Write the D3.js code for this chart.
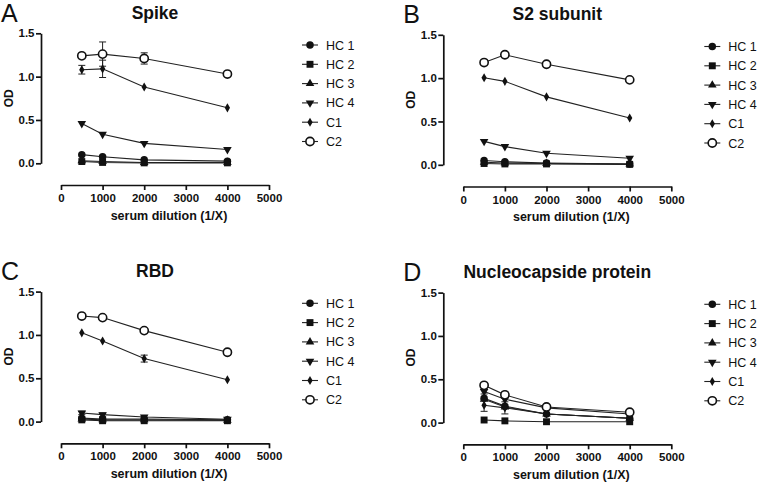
<!DOCTYPE html>
<html>
<head>
<meta charset="utf-8">
<script src="https://cdn.jsdelivr.net/npm/d3@7"></script>
<style>
  html, body { margin: 0; padding: 0; background: #fff; }
  svg { display: block; font-family: "Liberation Sans", Arial, Helvetica, sans-serif; }
</style>
</head>
<body>
<svg id="chart" width="762" height="483"></svg>
<script>
// ---------- DATA ----------
const dilutions = [500, 1000, 2000, 4000];
const seriesNames = ["HC 1", "HC 2", "HC 3", "HC 4", "C1", "C2"];
const panelTitles = ["Spike", "S2 subunit", "RBD", "Nucleocapside protein"];
const panelLetters = ["A", "B", "C", "D"];
const xTicks = [0, 1000, 2000, 3000, 4000, 5000];
const yTicks = [0, 0.5, 1.0, 1.5];
const yTickLabels = ["0.0", "0.5", "1.0", "1.5"];

// OD values per series (rows follow seriesNames)
const spikeValues = [
  [0.10, 0.076, 0.04, 0.025],
  [0.02, 0.01, 0.005, 0.005],
  [0.03, 0.02, 0.01, 0.01],
  [0.46, 0.335, 0.23, 0.16],
  [1.08, 1.09, 0.88, 0.64],
  [1.24, 1.26, 1.21, 1.03]
];
const spikeErrors = [
  [0, 0, 0, 0], [0, 0, 0, 0], [0, 0, 0, 0], [0, 0, 0, 0],
  [0.05, 0.10, 0, 0],
  [0, 0.14, 0.065, 0]
];
const s2Values = [
  [0.05, 0.035, 0.02, 0.01],
  [0.015, 0.01, 0.01, 0.005],
  [0.03, 0.02, 0.015, 0.01],
  [0.27, 0.21, 0.133, 0.076],
  [1.005, 0.963, 0.784, 0.54],
  [1.18, 1.27, 1.16, 0.98]
];
const s2Errors = [
  [0, 0, 0, 0], [0, 0, 0, 0], [0, 0, 0, 0], [0, 0, 0, 0],
  [0, 0, 0, 0],
  [0, 0, 0.02, 0]
];
const rbdValues = [
  [0.04, 0.03, 0.03, 0.02],
  [0.02, 0.01, 0.01, 0.01],
  [0.03, 0.02, 0.02, 0.015],
  [0.10, 0.08, 0.053, 0.027],
  [1.024, 0.93, 0.727, 0.483],
  [1.218, 1.20, 1.05, 0.80]
];
const rbdErrors = [
  [0, 0, 0, 0], [0, 0, 0, 0], [0, 0, 0, 0],
  [0.02, 0.02, 0, 0],
  [0, 0, 0.04, 0],
  [0, 0, 0, 0]
];
const ncpValues = [
  [0.28, 0.19, 0.10, 0.05],
  [0.03, 0.02, 0.01, 0.01],
  [0.27, 0.18, 0.10, 0.05],
  [0.36, 0.27, 0.17, 0.10],
  [0.20, 0.17, 0.10, 0.05],
  [0.43, 0.32, 0.18, 0.12]
];
const ncpErrors = [
  [0, 0, 0, 0], [0, 0, 0, 0], [0, 0, 0, 0],
  [0.03, 0, 0, 0],
  [0.07, 0.07, 0, 0],
  [0, 0.04, 0, 0]
];

const panelValues = [spikeValues, s2Values, rbdValues, ncpValues];
const panelErrors = [spikeErrors, s2Errors, rbdErrors, ncpErrors];

// ---------- LAYOUT ----------
const panelOrigins = [[0, 0], [402.3, 1.5], [0, 258.3], [402.3, 259.3]];
const FONT = "Liberation Sans, Arial, sans-serif";

const svg = d3.select("#chart");

function marker(g, i, x, y) {
  const ink = "#111";
  if (i === 0) {
    g.append("path").attr("d", d3.symbol(d3.symbolCircle, 44)())
      .attr("transform", `translate(${x},${y})`).attr("fill", ink);
  } else if (i === 1) {
    g.append("path").attr("d", d3.symbol(d3.symbolSquare, 48)())
      .attr("transform", `translate(${x},${y})`).attr("fill", ink);
  } else if (i === 2) {
    g.append("path").attr("d", d3.symbol(d3.symbolTriangle, 32)())
      .attr("transform", `translate(${x},${y})`).attr("fill", ink);
  } else if (i === 3) {
    g.append("path").attr("d", d3.symbol(d3.symbolTriangle, 32)())
      .attr("transform", `translate(${x},${y}) rotate(180)`).attr("fill", ink);
  } else if (i === 4) {
    g.append("path").attr("d", d3.symbol(d3.symbolDiamond, 24)())
      .attr("transform", `translate(${x},${y})`).attr("fill", ink);
  } else {
    g.append("circle").attr("cx", x).attr("cy", y).attr("r", 4.1)
      .attr("fill", "#fff").attr("stroke", ink).attr("stroke-width", 1.6);
  }
}

panelOrigins.forEach(([ox, oy], p) => {
  const g = svg.append("g").attr("transform", `translate(${ox},${oy})`);
  const yAxisX = 41, yTop = 33.3, yBottom = 163.3;
  const xAxisY = 185, xLeft = 61, xRight = 269;

  const x = d3.scaleLinear().domain([0, 5000]).range([xLeft, xRight]);
  const y = d3.scaleLinear().domain([0, 1.5]).range([yBottom, yTop]);

  // Y axis
  const yAx = g.append("g").attr("transform", `translate(${yAxisX},0)`)
    .call(d3.axisLeft(y).tickValues(yTicks).tickSize(5).tickSizeOuter(0)
      .tickFormat((d, i) => yTickLabels[i]));
  yAx.select(".domain").attr("stroke", "#111").attr("stroke-width", 1.7);
  yAx.selectAll(".tick line").attr("stroke", "#111").attr("stroke-width", 1.7);
  yAx.selectAll(".tick text").attr("font-size", 11.5).attr("font-weight", "bold")
    .attr("fill", "#111").attr("x", -6.5).attr("font-family", FONT);

  // X axis
  const xAx = g.append("g").attr("transform", `translate(0,${xAxisY})`)
    .call(d3.axisBottom(x).tickValues(xTicks).tickSize(5).tickSizeOuter(0)
      .tickFormat(d3.format("d")));
  xAx.select(".domain").attr("stroke", "#111").attr("stroke-width", 1.7);
  xAx.selectAll(".tick line").attr("stroke", "#111").attr("stroke-width", 1.7);
  xAx.selectAll(".tick text").attr("font-size", 11.5).attr("font-weight", "bold")
    .attr("fill", "#111").attr("y", 9).attr("font-family", FONT);

  // Axis titles
  g.append("text").attr("x", (xLeft + xRight) / 2 + 4).attr("y", 219.5)
    .attr("text-anchor", "middle").attr("font-size", 12.5).attr("font-weight", "bold")
    .attr("fill", "#111").text("serum dilution (1/X)");
  g.append("text").attr("transform", `translate(13,${(yTop + yBottom) / 2}) rotate(-90)`)
    .attr("text-anchor", "middle").attr("font-size", 12).attr("font-weight", "bold")
    .attr("fill", "#111").text("OD");

  // Title and letter
  g.append("text").attr("x", (yAxisX + xRight) / 2).attr("y", 18.5)
    .attr("text-anchor", "middle").attr("font-size", 17.5).attr("font-weight", "bold")
    .attr("fill", "#111").text(panelTitles[p]);
  g.append("text").attr("x", 1).attr("y", 21.5)
    .attr("font-size", 25).attr("fill", "#111").text(panelLetters[p]);

  const values = panelValues[p];
  const errors = panelErrors[p];
  const line = d3.line().x((d, i) => x(dilutions[i])).y(d => y(d));

  // Lines
  values.forEach((vals) => {
    g.append("path").attr("d", line(vals)).attr("fill", "none")
      .attr("stroke", "#222").attr("stroke-width", 1.1);
  });
  // Error bars
  values.forEach((vals, s) => {
    vals.forEach((v, i) => {
      const e = errors[s][i];
      if (!e) return;
      const cx = x(dilutions[i]);
      g.append("line").attr("x1", cx).attr("x2", cx).attr("y1", y(v - e)).attr("y2", y(v + e))
        .attr("stroke", "#222").attr("stroke-width", 1);
      [v - e, v + e].forEach(b => {
        g.append("line").attr("x1", cx - 3.5).attr("x2", cx + 3.5).attr("y1", y(b)).attr("y2", y(b))
          .attr("stroke", "#222").attr("stroke-width", 1);
      });
    });
  });
  // Markers
  values.forEach((vals, s) => {
    vals.forEach((v, i) => marker(g, s, x(dilutions[i]), y(v)));
  });

  // Legend
  seriesNames.forEach((name, s) => {
    const ly = 45 + s * 19.3;
    g.append("line").attr("x1", 302).attr("x2", 318).attr("y1", ly).attr("y2", ly)
      .attr("stroke", "#222").attr("stroke-width", 1.1);
    marker(g, s, 310, ly);
    g.append("text").attr("x", 326).attr("y", ly + 4.5).attr("font-size", 12.5)
      .attr("fill", "#111").text(name);
  });
});
</script>
</body>
</html>
